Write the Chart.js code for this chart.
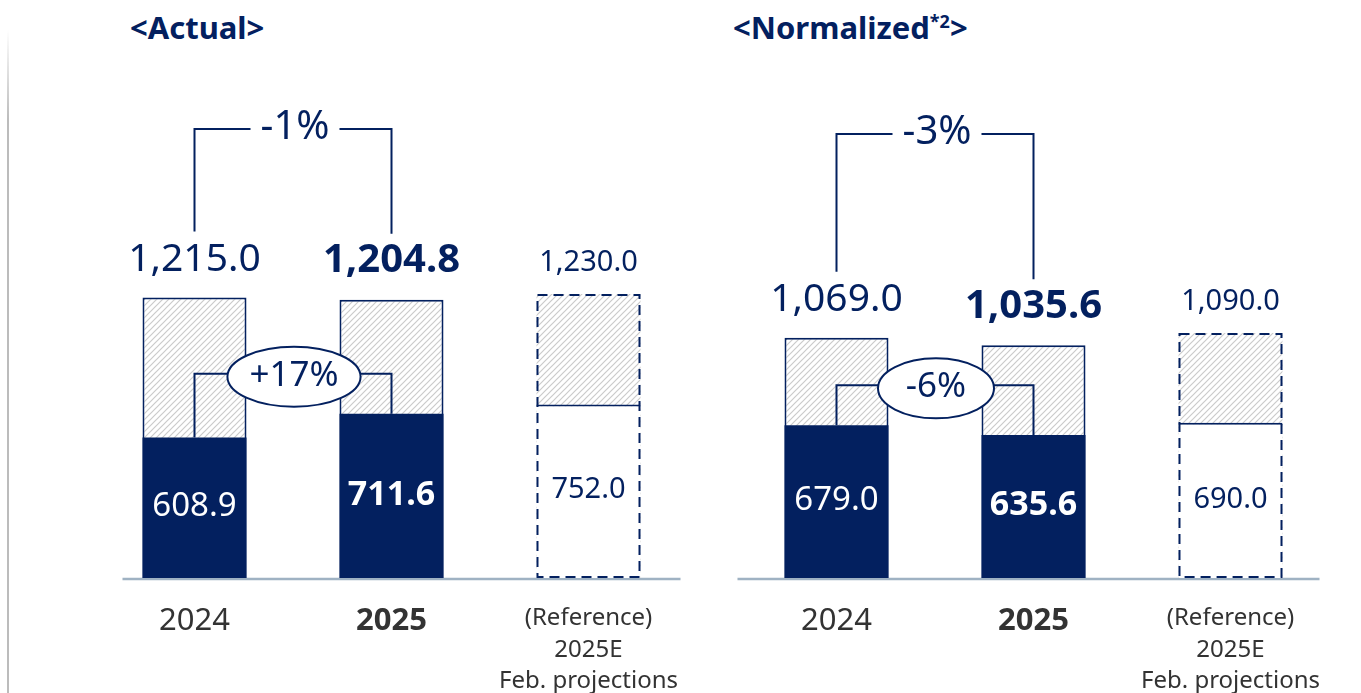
<!DOCTYPE html>
<html>
<head>
<meta charset="utf-8">
<script src="https://cdn.jsdelivr.net/npm/chart.js@4.4.1/dist/chart.umd.min.js"></script>
<style>
html, body { margin: 0; padding: 0; background: #fff; }
body { width: 1361px; height: 693px; position: relative; overflow: hidden; font-family: "Noto Sans", sans-serif; }
canvas { position: absolute; top: 0; }
#left { left: 0; }
#right { left: 700px; }
.title { position: absolute; top: 12px; font-size: 31px; font-weight: bold; color: #03205f; line-height: 31px; white-space: nowrap; }
.title sup { font-size: 18px; line-height: 0; vertical-align: 11px; }
.edge { position: absolute; left: 7px; top: 30px; width: 2px; height: 663px; background: linear-gradient(#fff 0, #bcbcbc 90px, #bcbcbc 100%); }
</style>
</head>
<body>
<div class="edge"></div>
<div class="title" style="left:130px">&lt;Actual&gt;</div>
<div class="title" style="left:733px">&lt;Normalized<sup>*2</sup>&gt;</div>
<canvas id="left" width="700" height="693"></canvas>
<canvas id="right" width="661" height="693"></canvas>
<script>
var navy = '#03205f'

// x axis categories
var categories = [['2024'], ['2025'], ['(Reference)', '2025E', 'Feb. projections']]

// <Actual>
var actualTotal = [1215.0, 1204.8, 1230.0]
var actualBase = [608.9, 711.6, 752.0]
var actualChange = ['-1%', '+17%'] // total change, lower part change

// <Normalized*2>
var normTotal = [1069.0, 1035.6, 1090.0]
var normBase = [679.0, 635.6, 690.0]
var normChange = ['-3%', '-6%']

Chart.defaults.font.family = '"Noto Sans", sans-serif'

function fmt(v, comma) {
    return v.toLocaleString('en-US', { minimumFractionDigits: 1, maximumFractionDigits: 1, useGrouping: comma })
}

/**
 * Light grey diagonal hatch used for the upper part of the bars
 */
function makeHatch(ctx) {
    var tile = document.createElement('canvas')
    tile.width = 6
    tile.height = 6
    var t = tile.getContext('2d')
    t.fillStyle = '#fff'
    t.fillRect(0, 0, 6, 6)
    t.strokeStyle = '#cbcbcb'
    t.lineWidth = 1.2
    t.beginPath()
    t.moveTo(-1, 7); t.lineTo(7, -1)
    t.moveTo(-1, 1); t.lineTo(1, -1)
    t.moveTo(5, 7); t.lineTo(7, 5)
    t.stroke()
    return ctx.createPattern(tile, 'repeat')
}

var overlay = {
    id: 'overlay',
    beforeDatasetsDraw(chart, args, opts) {
        var bars = chart.getDatasetMeta(0).data
        var first = bars[0], last = bars[bars.length - 1]
        var y = chart.scales.y.getPixelForValue(0)
        var ctx = chart.ctx
        ctx.save()
        ctx.strokeStyle = '#9fb2c3'
        ctx.lineWidth = 2.5
        ctx.beginPath()
        ctx.moveTo(first.x - first.width / 2 - opts.axisExt[0], y + 1)
        ctx.lineTo(last.x + last.width / 2 + opts.axisExt[1], y + 1)
        ctx.stroke()
        ctx.restore()
    },
    afterDatasetsDraw(chart, args, opts) {
        var ctx = chart.ctx
        var totals = chart.getDatasetMeta(0).data
        var bases = chart.getDatasetMeta(1).data
        var totalVals = chart.data.datasets[0].data
        var baseVals = chart.data.datasets[1].data
        ctx.save()
        ctx.strokeStyle = navy
        ctx.lineWidth = 2

        // dashed outline of the reference bar
        var r = totals[2]
        ctx.setLineDash([10, 6])
        ctx.strokeRect(r.x - r.width / 2 + 1, r.y + 1, r.width - 2, r.base - r.y - 2)
        ctx.setLineDash([])

        // step connector between the lower parts
        var b0 = bases[0], b1 = bases[1]
        var yc = Math.min(b0.y, b1.y) - 40
        ctx.beginPath()
        ctx.moveTo(b0.x, b0.y)
        ctx.lineTo(b0.x, yc)
        ctx.lineTo(b1.x, yc)
        ctx.lineTo(b1.x, b1.y)
        ctx.stroke()

        // ellipse with the change of the lower part
        ctx.font = '35px "Noto Sans"'
        var tw = ctx.measureText(opts.change[1]).width
        var cx = ((b0.x + b0.width / 2) + (b1.x - b1.width / 2)) / 2 + 1
        var cy = yc + 3
        var rx = Math.max(58, tw / 2 + 22)
        ctx.beginPath()
        ctx.ellipse(cx, cy, rx, 30, 0, 0, Math.PI * 2)
        ctx.fillStyle = '#fff'
        ctx.fill()
        ctx.stroke()
        ctx.fillStyle = navy
        ctx.textAlign = 'center'
        ctx.textBaseline = 'middle'
        ctx.fillText(opts.change[1], cx, cy - 1)

        // bracket with the change of the total
        var t0 = totals[0], t1 = totals[1]
        var by = opts.bracketY
        var mid = (t0.x + t1.x) / 2 + 2
        ctx.font = '40px "Noto Sans"'
        var gap = ctx.measureText(opts.change[0]).width / 2 + 10
        ctx.beginPath()
        ctx.moveTo(t0.x, t0.y - 66)
        ctx.lineTo(t0.x, by)
        ctx.lineTo(mid - gap, by)
        ctx.moveTo(mid + gap, by)
        ctx.lineTo(t1.x, by)
        ctx.lineTo(t1.x, t1.y - 66)
        ctx.stroke()
        ctx.fillText(opts.change[0], mid, by - 1)

        // value labels above the bars
        var topFonts = ['39px', 'bold 40px', '29px']
        var topOff = [38, 39, 31]
        totals.forEach(function (el, i) {
            ctx.font = topFonts[i] + ' "Noto Sans"'
            ctx.fillStyle = navy
            ctx.fillText(fmt(totalVals[i], true), el.x, el.y - topOff[i])
        })

        // value labels inside the lower parts
        var inFonts = ['33px', 'bold 34px', '29px']
        var inColors = ['#fff', '#fff', navy]
        bases.forEach(function (el, i) {
            ctx.font = inFonts[i] + ' "Noto Sans"'
            ctx.fillStyle = inColors[i]
            ctx.fillText(fmt(baseVals[i], false), el.x, (el.y + el.base) / 2 - 1)
        })
        ctx.restore()
    }
}

function drawPanel(id, totals, bases, change, yMax, pad, axisExt, bracketY) {
    var canvas = document.getElementById(id)
    var hatch = makeHatch(canvas.getContext('2d'))
    return new Chart(canvas, {
        type: 'bar',
        data: {
            labels: categories,
            datasets: [{
                label: 'total',
                data: totals,
                order: 1,
                grouped: false,
                backgroundColor: hatch,
                borderColor: navy,
                borderWidth: (c) => c.dataIndex < 2 ? 2 : 0,
                borderSkipped: 'start'
            }, {
                label: 'lower',
                data: bases,
                order: 0,
                grouped: false,
                backgroundColor: [navy, navy, '#fff'],
                borderColor: navy,
                borderWidth: (c) => c.dataIndex < 2 ? 0 : { top: 2, left: 0, right: 0, bottom: 0 },
                borderSkipped: false
            }]
        },
        options: {
            responsive: false,
            animation: false,
            devicePixelRatio: 1,
            events: [],
            layout: { padding: { left: pad[0], right: pad[1], top: 80, bottom: 0 } },
            datasets: { bar: { categoryPercentage: 1, barPercentage: 0.528 } },
            plugins: {
                legend: { display: false },
                tooltip: { enabled: false },
                overlay: { change: change, axisExt: axisExt, bracketY: bracketY }
            },
            scales: {
                x: {
                    grid: { display: false },
                    border: { display: false },
                    ticks: {
                        padding: 17,
                        color: '#333',
                        maxRotation: 0,
                        autoSkip: false,
                        font: (c) => c.index === 2
                            ? { size: 24, lineHeight: 1.3 }
                            : { size: 31, weight: c.index === 1 ? 'bold' : 'normal', lineHeight: 1.2 }
                    },
                    afterFit: (s) => {
                        s.height = 115
                        s.paddingLeft = 0
                        s.paddingRight = 0
                    }
                },
                y: { display: false, min: 0, max: yMax }
            }
        },
        plugins: [overlay]
    })
}

drawPanel('left', actualTotal, actualBase, actualChange, 2157, [96, 13], [20, 40], 129)
drawPanel('right', normTotal, normBase, normChange, 2215, [38, 32], [47, 37], 134)
</script>
</body>
</html>
